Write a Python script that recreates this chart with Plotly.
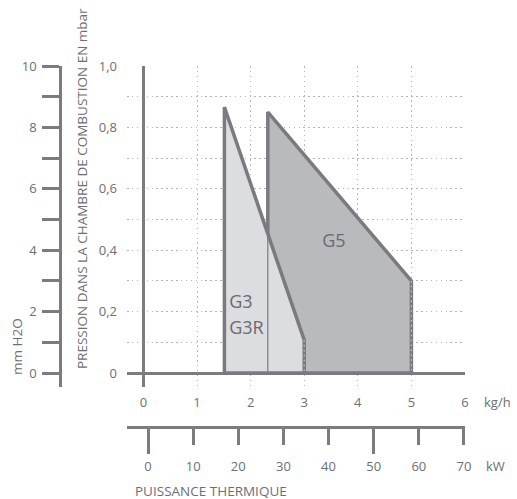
import plotly.graph_objects as go

# ---- data ----
kgh_ticks = [0, 1, 2, 3, 4, 5, 6]
kgh_labels = ["0", "1", "2", "3", "4", "5", "6"]
mbar_ticks = [0, 0.1, 0.2, 0.3, 0.4, 0.5, 0.6, 0.7, 0.8, 0.9, 1.0]
mbar_labels = ["0", "", "0,2", "", "0,4", "", "0,6", "", "0,8", "", "1,0"]
mmh2o_ticks = [0, 1, 2, 3, 4, 5, 6, 7, 8, 9, 10]
mmh2o_labels = ["0", "", "2", "", "4", "", "6", "", "8", "", "10"]
kw_ticks = [0, 10, 20, 30, 40, 50, 60, 70]
kw_labels = ["0", "10", "20", "30", "40", "50", "60", "70"]
kw_long_ticks = [0, 50]

# G3 / G3R zone (kg/h, mbar)
g3_x = [1.51, 1.51, 3.0, 3.0, 1.51]
g3_y = [0.0, 0.866, 0.107, 0.0, 0.0]
# G5 zone
g5_x = [2.32, 2.32, 5.0, 5.0, 2.32]
g5_y = [0.0, 0.85, 0.30, 0.0, 0.0]

labels_text = ["G3", "G3R", "G5"]
labels_x = [1.60, 1.60, 3.555]
labels_y = [0.226, 0.143, 0.424]

# ---- layout helpers (pixel geometry) ----
W, H = 517, 499
def fx(p):
    return p / W
def fy(p):
    return 1 - p / H

X0, XU = 143.5, 53.58      # px of x=0, px per kg/h
Y0, YU = 373.0, 307.0      # px of y=0, px per mbar
L, R, T, B = 127, 465, 66, 387
x_range = [(L - X0) / XU, (R - X0) / XU]
y_range = [-(B - Y0) / YU, (Y0 - T) / YU]
K0, KU = 148.0, 4.514      # px of 0 kW, px per kW
kw_range = [(L - K0) / KU, (R - K0) / KU]

AX = "#7b7b80"
TXT = "#6e6e72"
GRID = "#b4b4b8"
DOT = "1.5px,3.4px"
FONT = "Open Sans"

fig = go.Figure()

fig.add_trace(go.Scatter(x=g5_x, y=g5_y, fill="toself", fillcolor="#b9babd",
                         mode="lines", line=dict(color="#7a7a80", width=3.5),
                         hoverinfo="skip", showlegend=False))
fig.add_trace(go.Scatter(x=g3_x, y=g3_y, fill="toself", fillcolor="#dcdde0",
                         mode="lines", line=dict(color="#7a7a80", width=3.5),
                         hoverinfo="skip", showlegend=False))
# thin separating line: left edge of G5 inside the G3 zone
xs = g5_x[0]
t = (xs - g3_x[1]) / (g3_x[2] - g3_x[1])
y_cross = g3_y[1] + t * (g3_y[2] - g3_y[1])
fig.add_trace(go.Scatter(x=[xs, xs], y=[0, y_cross], mode="lines",
                         line=dict(color="#7a7a80", width=1.2),
                         hoverinfo="skip", showlegend=False))
# dotted grid visible over right edges
fig.add_trace(go.Scatter(x=[g3_x[2], g3_x[3]], y=[g3_y[2], 0], mode="lines",
                         line=dict(color="#c4c4c8", width=1.2, dash=DOT),
                         hoverinfo="skip", showlegend=False))
fig.add_trace(go.Scatter(x=[g5_x[2], g5_x[3]], y=[g5_y[2], 0], mode="lines",
                         line=dict(color="#c4c4c8", width=1.2, dash=DOT),
                         hoverinfo="skip", showlegend=False))

fig.add_trace(go.Scatter(x=labels_x[:2], y=labels_y[:2], text=labels_text[:2],
                         mode="text", textposition="middle right",
                         textfont=dict(family=FONT, size=18, color="#6a6a6e"),
                         hoverinfo="skip", showlegend=False))
fig.add_trace(go.Scatter(x=labels_x[2:], y=labels_y[2:], text=labels_text[2:],
                         mode="text", textposition="middle center",
                         textfont=dict(family=FONT, size=18, color="#6a6a6e"),
                         hoverinfo="skip", showlegend=False))

# invisible traces to bind extra axes
fig.add_trace(go.Scatter(x=kw_ticks, y=[None] * len(kw_ticks), xaxis="x2", yaxis="y",
                         mode="markers", showlegend=False, hoverinfo="skip"))
fig.add_trace(go.Scatter(x=kw_long_ticks, y=[None] * len(kw_long_ticks), xaxis="x3", yaxis="y",
                         mode="markers", showlegend=False, hoverinfo="skip"))
fig.add_trace(go.Scatter(x=[None], y=mmh2o_ticks, xaxis="x", yaxis="y2",
                         mode="markers", showlegend=False, hoverinfo="skip"))

def ann(text, x, y, size, angle=0, xanchor="center"):
    return dict(text=text, x=fx(x), y=fy(y), xref="paper", yref="paper",
                xanchor=xanchor, yanchor="middle", textangle=angle,
                showarrow=False, font=dict(size=size, color=TXT))

fig.update_layout(
    width=W, height=H,
    margin=dict(l=0, r=0, t=0, b=0, autoexpand=False),
    paper_bgcolor="white", plot_bgcolor="white",
    font=dict(family=FONT, color=TXT, size=13),
    xaxis=dict(domain=[fx(L), fx(R)], range=x_range, anchor="y",
               tickmode="array", tickvals=kgh_ticks, ticktext=kgh_labels,
               showgrid=True, gridcolor=GRID, gridwidth=1.2, griddash=DOT,
               zeroline=True, zerolinecolor=AX, zerolinewidth=2.5,
               showline=False, ticks="", ticklabelstandoff=6,
               tickfont=dict(size=13, color=TXT), automargin=False, fixedrange=True),
    yaxis=dict(domain=[fy(B), fy(T)], range=y_range, anchor="x",
               tickmode="array", tickvals=mbar_ticks, ticktext=mbar_labels,
               showgrid=True, gridcolor=GRID, gridwidth=1.2, griddash=DOT,
               zeroline=True, zerolinecolor=AX, zerolinewidth=2.5,
               showline=False, ticks="", ticklabelstandoff=9,
               tickfont=dict(size=13, color=TXT), automargin=False, fixedrange=True),
    yaxis2=dict(overlaying="y", anchor="free", position=fx(60), side="left",
                range=[10 * y_range[0], 10 * y_range[1]],
                tickmode="array", tickvals=mmh2o_ticks, ticktext=mmh2o_labels,
                showgrid=False, zeroline=False,
                showline=True, linecolor=AX, linewidth=2.5,
                ticks="outside", ticklen=17, tickwidth=2.5, tickcolor=AX,
                ticklabelstandoff=3,
                tickfont=dict(size=13, color=TXT), automargin=False, fixedrange=True),
    xaxis2=dict(overlaying="x", anchor="free", position=fy(427), side="bottom",
                range=kw_range,
                tickmode="array", tickvals=kw_ticks, ticktext=kw_labels,
                showgrid=False, zeroline=False,
                showline=True, linecolor=AX, linewidth=2.5,
                ticks="outside", ticklen=16, tickwidth=2.5, tickcolor=AX,
                ticklabelstandoff=11,
                tickfont=dict(size=13, color=TXT), automargin=False, fixedrange=True),
    xaxis3=dict(overlaying="x", anchor="free", position=fy(427), side="bottom",
                matches="x2", range=kw_range,
                tickmode="array", tickvals=kw_long_ticks,
                showticklabels=False, showgrid=False, zeroline=False, showline=False,
                ticks="outside", ticklen=26, tickwidth=2.5, tickcolor=AX,
                automargin=False, fixedrange=True),
    annotations=[
        ann("kg/h", 497, 402, 13),
        ann("kW", 495, 466, 13),
        ann("PUISSANCE THERMIQUE", 133, 491, 13.5, xanchor="left"),
        ann("PRESSION DANS LA CHAMBRE DE COMBUSTION EN mbar", 82, 189, 13.5, angle=-90),
        ann("mm H2O", 17, 347, 13.5, angle=-90),
    ],
)

fig.write_html("out.html", config={"displayModeBar": False},
               post_script="document.body.style.margin='0px';")
